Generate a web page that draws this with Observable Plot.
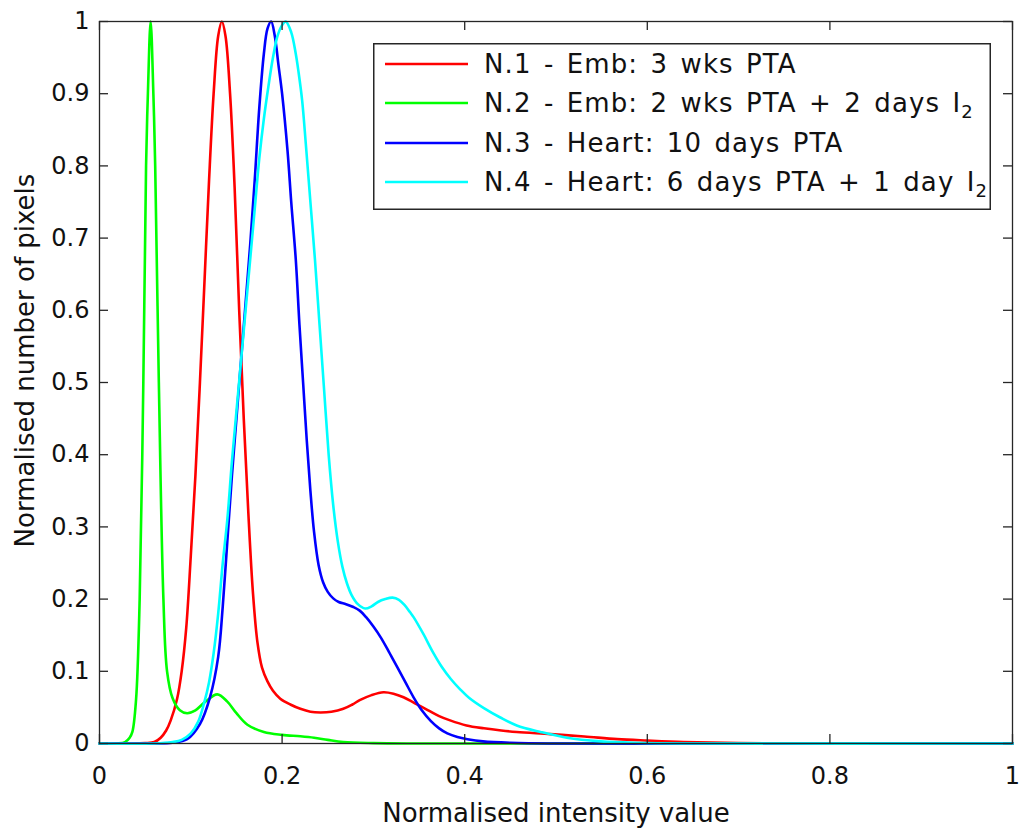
<!DOCTYPE html>
<html>
<head>
<meta charset="utf-8">
<script src="https://cdn.jsdelivr.net/npm/d3@7"></script>
<script src="https://cdn.jsdelivr.net/npm/@observablehq/plot@0.6"></script>
<style>
  html, body { margin: 0; padding: 0; background: #fff; }
  #wrap { position: relative; width: 1019px; height: 832px; }
  #legend { position: absolute; left: 373px; top: 43px; }
  #wrap svg, #wrap svg text { font-family: "DejaVu Sans", sans-serif !important; }
</style>
</head>
<body>
<div id="wrap"></div>
<script>
// ---- data ----
const seriesNames = [
  "N.1 - Emb: 3 wks PTA",
  "N.2 - Emb: 2 wks PTA + 2 days I",
  "N.3 - Heart: 10 days PTA",
  "N.4 - Heart: 6 days PTA + 1 day I"
];
const seriesSub = ["", "2", "", "2"];
const seriesColors = ["#ff0000", "#00ff00", "#0000ff", "#00ffff"];

const n1 = [[0,0],[0.03,0],[0.05,0.0005],[0.06,0.002],[0.067,0.008],[0.073,0.018],[0.078,0.032],[0.085,0.062],[0.090,0.1],[0.095,0.16],[0.100,0.26],[0.105,0.37],[0.110,0.5],[0.115,0.64],[0.120,0.78],[0.125,0.9],[0.130,0.98],[0.134,1.0],[0.138,0.98],[0.143,0.9],[0.148,0.77],[0.153,0.6],[0.158,0.45],[0.163,0.32],[0.168,0.21],[0.173,0.14],[0.178,0.105],[0.184,0.086],[0.190,0.073],[0.198,0.062],[0.209,0.054],[0.220,0.048],[0.231,0.044],[0.242,0.043],[0.254,0.044],[0.267,0.048],[0.277,0.054],[0.285,0.060],[0.298,0.067],[0.311,0.071],[0.322,0.069],[0.333,0.064],[0.345,0.056],[0.360,0.046],[0.372,0.038],[0.384,0.032],[0.402,0.025],[0.421,0.021],[0.44,0.018],[0.457,0.016],[0.494,0.013],[0.531,0.0097],[0.567,0.006],[0.6,0.004],[0.64,0.002],[0.7,0.0005],[0.8,0],[1,0]];
const n2 = [[0,0],[0.02,0],[0.028,0.002],[0.033,0.008],[0.036,0.016],[0.040,0.06],[0.044,0.2],[0.048,0.5],[0.051,0.8],[0.053,0.9],[0.056,1.0],[0.059,0.9],[0.061,0.8],[0.065,0.5],[0.070,0.2],[0.074,0.1],[0.080,0.063],[0.088,0.046],[0.096,0.042],[0.105,0.046],[0.116,0.058],[0.129,0.068],[0.140,0.058],[0.150,0.042],[0.162,0.026],[0.18,0.016],[0.2,0.012],[0.22,0.010],[0.235,0.008],[0.25,0.005],[0.267,0.002],[0.3,0.0005],[0.35,0],[1,0]];
const n3 = [[0,0],[0.06,0],[0.08,0.001],[0.096,0.006],[0.110,0.027],[0.121,0.064],[0.130,0.12],[0.135,0.19],[0.140,0.28],[0.145,0.37],[0.150,0.45],[0.155,0.53],[0.160,0.61],[0.165,0.69],[0.170,0.78],[0.175,0.88],[0.180,0.955],[0.184,0.99],[0.188,1.0],[0.192,0.98],[0.196,0.94],[0.200,0.9],[0.206,0.82],[0.210,0.75],[0.215,0.67],[0.219,0.58],[0.223,0.5],[0.227,0.42],[0.231,0.35],[0.235,0.293],[0.240,0.247],[0.245,0.223],[0.250,0.21],[0.256,0.201],[0.262,0.196],[0.270,0.193],[0.278,0.189],[0.285,0.184],[0.292,0.175],[0.300,0.162],[0.308,0.147],[0.317,0.127],[0.326,0.106],[0.335,0.085],[0.344,0.064],[0.353,0.046],[0.363,0.031],[0.372,0.021],[0.381,0.014],[0.392,0.009],[0.403,0.006],[0.42,0.003],[0.45,0.001],[0.5,0],[1,0]];
const n4 = [[0,0],[0.06,0],[0.08,0.002],[0.09,0.005],[0.1,0.014],[0.108,0.03],[0.115,0.058],[0.12,0.085],[0.125,0.125],[0.13,0.18],[0.135,0.25],[0.14,0.31],[0.145,0.39],[0.15,0.46],[0.155,0.53],[0.16,0.6],[0.165,0.67],[0.17,0.74],[0.175,0.81],[0.18,0.865],[0.185,0.91],[0.19,0.95],[0.195,0.98],[0.2,0.995],[0.204,1.0],[0.21,0.985],[0.215,0.955],[0.218,0.93],[0.222,0.89],[0.226,0.83],[0.231,0.75],[0.236,0.67],[0.241,0.58],[0.246,0.49],[0.251,0.4],[0.256,0.33],[0.261,0.28],[0.266,0.245],[0.271,0.222],[0.276,0.206],[0.283,0.193],[0.291,0.187],[0.298,0.19],[0.305,0.196],[0.313,0.2],[0.321,0.202],[0.328,0.199],[0.334,0.192],[0.340,0.182],[0.344,0.175],[0.355,0.151],[0.365,0.127],[0.375,0.106],[0.385,0.089],[0.395,0.075],[0.405,0.063],[0.421,0.049],[0.439,0.036],[0.457,0.025],[0.483,0.016],[0.512,0.008],[0.549,0.003],[0.585,0.001],[0.65,0],[1,0]];
const seriesData = [n1, n2, n3, n4];

const xTicks = [0, 0.2, 0.4, 0.6, 0.8, 1];
const yTicks = [0, 0.1, 0.2, 0.3, 0.4, 0.5, 0.6, 0.7, 0.8, 0.9, 1];
const xLabel = "Normalised intensity value";
const yLabel = "Normalised number of pixels";

// ---- layout ----
const W = 1019, H = 832;
const mL = 99, mR = 7, mT = 21, mB = 89;
const plotH = H - mT - mB;
const TICK = 9;
const FONT = '"DejaVu Sans", sans-serif';
const INK = "#262626";

const rows = seriesData.flatMap((arr, i) => arr.map(([x, y]) => ({x, y, s: i})));
const fmt = d3.format("~g");

const lineMarks = seriesData.map((arr, i) =>
  Plot.line(rows.filter(r => r.s === i), {x: "x", y: "y", stroke: seriesColors[i], strokeWidth: 2.6, curve: "catmull-rom"})
);

const chart = Plot.plot({
  width: W, height: H,
  marginLeft: mL, marginRight: mR, marginTop: mT, marginBottom: mB,
  style: {fontFamily: FONT, fontSize: "24px", color: "#111", background: "#fff"},
  x: {domain: [0, 1]},
  y: {domain: [0, 1]},
  marks: [
    ...lineMarks,
    Plot.frame({stroke: INK, strokeWidth: 1.3}),
    Plot.ruleX(xTicks, {x: d => d, stroke: INK, strokeWidth: 1.3, insetTop: plotH - TICK}),
    Plot.ruleX(xTicks, {x: d => d, stroke: INK, strokeWidth: 1.3, insetBottom: plotH - TICK}),
    Plot.ruleY(yTicks, {y: d => d, stroke: INK, strokeWidth: 1.3, insetRight: (W - mL - mR) - TICK}),
    Plot.ruleY(yTicks, {y: d => d, stroke: INK, strokeWidth: 1.3, insetLeft: (W - mL - mR) - TICK}),
    Plot.axisX(xTicks, {tickSize: 0, tickPadding: 23, tickFormat: fmt, label: null, fill: "#111"}),
    Plot.axisY(yTicks, {tickSize: 0, tickPadding: 10, tickFormat: fmt, label: null, fill: "#111"}),
    Plot.text([xLabel], {frameAnchor: "bottom", dy: 78, lineAnchor: "bottom", textAnchor: "middle", fill: "#111", fontSize: 26, letterSpacing: "0.4px"}),
    Plot.text([yLabel], {frameAnchor: "left", rotate: -90, dx: -66, dy: -22, lineAnchor: "bottom", textAnchor: "middle", fill: "#111", fontSize: 26, letterSpacing: "1.6px"})
  ]
});
const wrap = document.getElementById("wrap");
wrap.appendChild(chart);

// ---- legend ----
const LW = 618, LH = 167;
const leg = d3.select(wrap).append("svg")
  .attr("id", "legend").attr("width", LW).attr("height", LH)
  .attr("font-size", 26).attr("letter-spacing", "1.1px").attr("word-spacing", "3px");
leg.append("rect").attr("x", 0.75).attr("y", 0.75).attr("width", LW - 1.5).attr("height", LH - 1.5)
  .attr("fill", "#fff").attr("stroke", INK).attr("stroke-width", 1.5);
const rowY = [21, 60, 100, 139];
seriesNames.forEach((name, i) => {
  leg.append("line").attr("x1", 12).attr("x2", 95).attr("y1", rowY[i]).attr("y2", rowY[i])
    .attr("stroke", seriesColors[i]).attr("stroke-width", 2.6);
  const t = leg.append("text").attr("x", 111).attr("y", rowY[i] + 9).attr("fill", "#111");
  t.append("tspan").text(name);
  if (seriesSub[i]) t.append("tspan").attr("dy", 6).attr("font-size", 18).text(seriesSub[i]);
});
</script>
</body>
</html>
